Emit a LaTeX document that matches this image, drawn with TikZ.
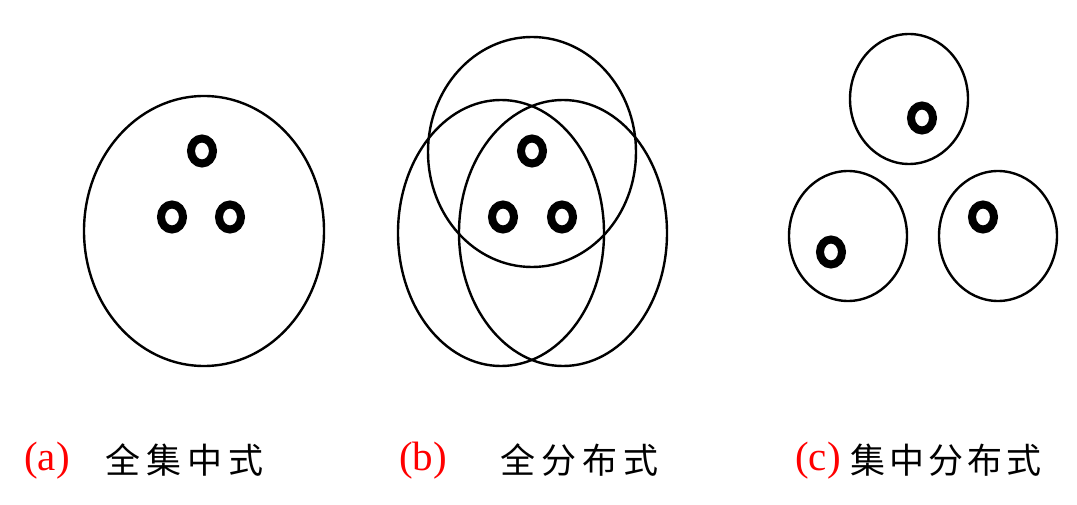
\documentclass[tikz,border=0pt]{standalone}
\usepackage{fontspec}
\setmainfont{Liberation Serif}
\newfontfamily\cjk{Noto Sans CJK SC}
\begin{document}
\begin{tikzpicture}[x=1pt,y=-1pt,
  outline/.style={draw=black,line width=2.4pt},
  ring/.style={draw=black,line width=8pt},
  lab/.style={text=red,font=\fontsize{41}{45}\selectfont,anchor=base,inner sep=0pt},
  captxt/.style={font=\cjk\fontsize{35}{40}\selectfont,anchor=base west,inner sep=0pt}]
\useasboundingbox (0,0) rectangle (1077,505);
% (a)
\draw[outline] (204,231) ellipse [x radius=120,y radius=135];
\draw[ring] (202,151) ellipse [x radius=11,y radius=12.5];
\draw[ring] (172,217) ellipse [x radius=11,y radius=12.5];
\draw[ring] (230,217) ellipse [x radius=11,y radius=12.5];
% (b)
\draw[outline] (532,152) ellipse [x radius=104,y radius=115];
\draw[outline] (501,233) ellipse [x radius=103,y radius=133];
\draw[outline] (563,233) ellipse [x radius=104,y radius=133];
\draw[ring] (532,151) ellipse [x radius=11,y radius=12.5];
\draw[ring] (503,217) ellipse [x radius=11,y radius=12.5];
\draw[ring] (562,217) ellipse [x radius=11,y radius=12.5];
% (c)
\draw[outline] (909,99) ellipse [x radius=59,y radius=65];
\draw[outline] (848,236) ellipse [x radius=59,y radius=65];
\draw[outline] (998,236) ellipse [x radius=59,y radius=65];
\draw[ring] (922,118) ellipse [x radius=11,y radius=12.5];
\draw[ring] (831,252) ellipse [x radius=11,y radius=12.5];
\draw[ring] (983,217) ellipse [x radius=11,y radius=12.5];
% labels
\node[lab] (la) at (47,470) {(a)};
\node[lab] (lb) at (423,470) {(b)};
\node[lab] (lc) at (818,470) {(c)};
\node[captxt] (ca) at (105,473) {全\hspace{6pt}集\hspace{6pt}中\hspace{6pt}式};
\node[captxt] (cb) at (500,473) {全\hspace{6pt}分\hspace{6pt}布\hspace{6pt}式};
\node[captxt] (cc) at (850,473) {集\hspace{4pt}中\hspace{4pt}分\hspace{4pt}布\hspace{4pt}式};
\end{tikzpicture}
\end{document}
